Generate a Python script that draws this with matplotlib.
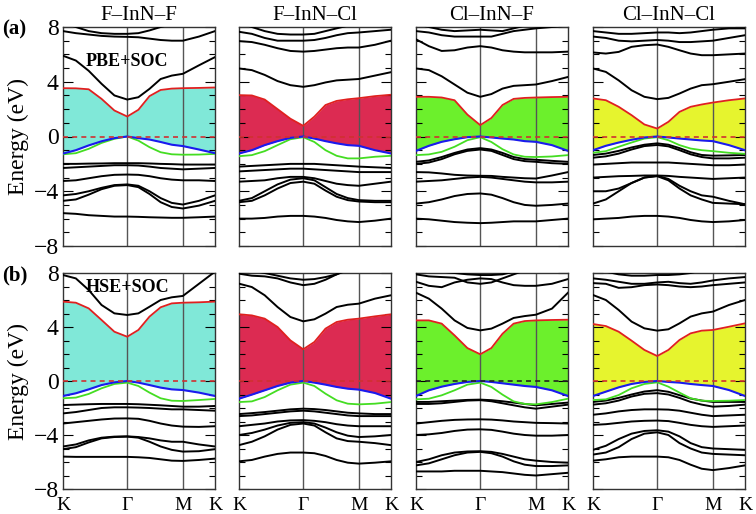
import numpy as np
import matplotlib.pyplot as plt
from matplotlib.ticker import MultipleLocator

plt.rcParams['font.family'] = ['Liberation Serif', 'DejaVu Serif']

# k-path K-G-M-K, segment lengths |KG|:|GM|:|MK| (units of 2pi/a)
seg_len = [4 / 3, 2 / np.sqrt(3), 2 / 3]
k_nodes = np.concatenate([[0], np.cumsum(seg_len)])
# sample fractions along each segment
seg_frac = [[0, .2, .4, .6, .8, 1], [.2, .4, .6, .8, 1], [.5, 1]]
kpts = np.concatenate([k_nodes[i] + np.array(f) * seg_len[i] for i, f in enumerate(seg_frac)])

titles = ["F\u2013InN\u2013F", "F\u2013InN\u2013Cl", "Cl\u2013InN\u2013F", "Cl\u2013InN\u2013Cl"]
fill_colors = ["#80e8d8", "#dc2b52", "#6cf02c", "#e6f42e"]
row_labels = ["(a)", "(b)"]
method_labels = ["PBE+SOC", "HSE+SOC"]
method_energy = [5.5, 6.9]
k_labels = ["K", "\u0393", "M", "K"]

# ---------------- PBE+SOC ----------------
a1_cb = [3.53, 3.52, 3.45, 2.75, 1.9, 1.46, 1.95, 2.95, 3.4, 3.5, 3.53, 3.55, 3.58]
a1_vb1 = [-1.25, -1.0, -0.65, -0.35, -0.12, 0.0, -0.12, -0.22, -0.4, -0.6, -0.7, -0.95, -1.22]
a1_vb2 = [-1.3, -1.22, -0.9, -0.47, -0.17, 0.0, -0.3, -0.78, -1.15, -1.3, -1.33, -1.32, -1.27]
a1_bands = [
    [5.9, 5.55, 4.8, 3.85, 3.0, 2.7, 2.87, 3.48, 4.2, 4.45, 4.58, 5.2, 5.8],
    [7.7, 7.55, 7.45, 7.35, 7.3, 7.28, 7.25, 7.15, 7.05, 7.0, 7.0, 7.3, 7.7],
    [8.3, 8.0, 7.7, 7.55, 7.5, 7.5, 7.55, 7.75, 8.0, 8.2, 8.4, 8.4, 8.4],
    [-2.0, -2.0, -1.98, -1.97, -1.95, -1.95, -1.95, -1.97, -2.0, -2.02, -2.05, -2.05, -2.05],
    [-2.3, -2.25, -2.2, -2.15, -2.1, -2.1, -2.12, -2.2, -2.3, -2.35, -2.4, -2.35, -2.3],
    [-3.25, -3.2, -3.05, -2.9, -2.8, -2.78, -2.8, -2.9, -3.05, -3.15, -3.2, -3.2, -3.25],
    [-4.3, -4.2, -4.0, -3.75, -3.55, -3.5, -3.6, -4.0, -4.5, -4.85, -4.97, -4.7, -4.3],
    [-4.7, -4.6, -4.25, -3.85, -3.6, -3.55, -3.7, -4.2, -4.8, -5.15, -5.26, -5.05, -4.7],
    [-5.6, -5.65, -5.75, -5.8, -5.85, -5.85, -5.87, -5.9, -5.92, -5.94, -5.94, -5.9, -5.85],
]

a2_cb = [3.02, 3.0, 2.7, 2.0, 1.3, 0.78, 1.45, 2.3, 2.6, 2.72, 2.8, 2.95, 3.05]
a2_vb1 = [-1.24, -1.0, -0.63, -0.34, -0.1, 0.0, -0.15, -0.34, -0.5, -0.63, -0.68, -1.0, -1.24]
a2_vb2 = [-1.44, -1.36, -1.07, -0.63, -0.2, -0.05, -0.4, -1.0, -1.41, -1.6, -1.6, -1.48, -1.41]
a2_bands = [
    [4.97, 4.85, 4.5, 4.05, 3.75, 3.63, 3.75, 3.95, 4.1, 4.15, 4.2, 4.45, 4.7],
    [6.97, 6.9, 6.7, 6.45, 6.25, 6.2, 6.25, 6.35, 6.45, 6.5, 6.5, 6.7, 7.0],
    [7.65, 7.5, 7.2, 7.0, 7.0, 7.0, 7.05, 7.2, 7.4, 7.55, 7.6, 7.7, 7.8],
    [8.3, 8.0, 7.7, 7.5, 7.45, 7.45, 7.5, 7.7, 7.9, 8.1, 8.2, 8.3, 8.3],
    [-2.2, -2.15, -2.1, -2.05, -2.0, -2.0, -2.0, -2.05, -2.1, -2.15, -2.2, -2.25, -2.3],
    [-2.55, -2.5, -2.45, -2.4, -2.35, -2.35, -2.4, -2.45, -2.5, -2.55, -2.6, -2.6, -2.6],
    [-3.3, -3.25, -3.2, -3.05, -2.95, -2.95, -3.05, -3.25, -3.45, -3.55, -3.6, -3.45, -3.3],
    [-4.7, -4.5, -4.0, -3.5, -3.15, -3.05, -3.2, -3.7, -4.2, -4.5, -4.65, -4.7, -4.7],
    [-4.8, -4.7, -4.3, -3.8, -3.4, -3.3, -3.45, -3.95, -4.4, -4.65, -4.75, -4.8, -4.8],
    [-6.0, -6.0, -5.95, -5.85, -5.8, -5.8, -5.85, -5.95, -6.1, -6.2, -6.25, -6.15, -6.0],
]

a3_cb = [2.9, 2.9, 2.85, 2.65, 1.6, 0.83, 1.35, 2.3, 2.75, 2.82, 2.85, 2.88, 2.9]
a3_vb1 = [-1.05, -0.68, -0.39, -0.2, -0.05, 0.0, -0.07, -0.15, -0.22, -0.34, -0.39, -0.63, -1.05]
a3_vb2 = [-1.36, -1.31, -1.12, -0.75, -0.27, -0.05, -0.4, -0.93, -1.31, -1.48, -1.5, -1.46, -1.36]
a3_bands = [
    [4.97, 4.85, 4.4, 3.8, 3.2, 2.9, 3.1, 3.5, 3.7, 3.75, 3.8, 4.05, 4.35],
    [7.1, 6.6, 6.25, 6.3, 6.5, 6.6, 6.5, 6.3, 6.2, 6.15, 6.15, 6.15, 6.2],
    [7.7, 7.6, 7.4, 7.3, 7.3, 7.3, 7.3, 7.5, 7.7, 7.8, 7.9, 8.0, 8.1],
    [8.2, 8.0, 7.8, 7.7, 7.75, 7.8, 7.75, 7.7, 7.9, 8.1, 8.2, 8.3, 8.3],
    [-1.85, -1.75, -1.5, -1.2, -0.95, -0.85, -0.95, -1.2, -1.5, -1.65, -1.7, -1.78, -1.85],
    [-2.0, -1.9, -1.65, -1.3, -1.05, -0.95, -1.05, -1.35, -1.65, -1.8, -1.85, -1.95, -2.0],
    [-2.6, -2.62, -2.7, -2.8, -2.85, -2.87, -2.88, -2.95, -3.0, -3.05, -3.07, -2.85, -2.6],
    [-3.3, -3.25, -3.2, -3.1, -3.0, -2.95, -3.0, -3.1, -3.2, -3.3, -3.35, -3.35, -3.3],
    [-4.9, -4.8, -4.6, -4.35, -4.2, -4.16, -4.25, -4.5, -4.8, -5.0, -5.06, -5.0, -4.9],
    [-6.0, -6.05, -6.15, -6.25, -6.3, -6.33, -6.3, -6.25, -6.2, -6.2, -6.2, -6.1, -6.0],
]

a4_cb = [2.78, 2.65, 2.17, 1.56, 0.88, 0.58, 1.07, 1.8, 2.17, 2.34, 2.48, 2.65, 2.78]
a4_vb1 = [-1.0, -0.68, -0.44, -0.24, -0.07, 0.0, -0.07, -0.15, -0.22, -0.29, -0.34, -0.63, -1.0]
a4_vb2 = [-1.19, -1.07, -0.75, -0.44, -0.15, -0.05, -0.27, -0.63, -0.88, -1.0, -1.07, -1.19, -1.27]
a4_bands = [
    [4.97, 4.72, 4.1, 3.38, 2.9, 2.73, 2.82, 3.14, 3.5, 3.75, 3.82, 4.0, 4.19],
    [6.14, 6.06, 6.18, 6.55, 6.67, 6.72, 6.55, 6.3, 6.06, 5.94, 5.94, 6.0, 6.06],
    [7.3, 7.2, 7.0, 6.95, 7.0, 7.05, 7.0, 6.9, 6.9, 6.95, 7.0, 7.2, 7.4],
    [7.7, 7.6, 7.5, 7.5, 7.55, 7.6, 7.6, 7.55, 7.6, 7.7, 7.8, 7.9, 7.9],
    [-1.35, -1.25, -1.05, -0.8, -0.6, -0.5, -0.6, -0.85, -1.15, -1.35, -1.4, -1.38, -1.35],
    [-1.55, -1.45, -1.25, -0.95, -0.7, -0.62, -0.72, -1.0, -1.3, -1.5, -1.6, -1.6, -1.55],
    [-2.05, -2.0, -1.95, -1.9, -1.9, -1.9, -1.9, -1.95, -2.0, -2.05, -2.1, -2.1, -2.05],
    [-3.0, -2.95, -2.9, -2.88, -2.85, -2.85, -2.88, -2.95, -3.0, -3.05, -3.1, -3.05, -3.0],
    [-4.9, -4.6, -4.0, -3.4, -3.0, -2.87, -3.1, -3.6, -4.0, -4.3, -4.4, -4.7, -4.95],
    [-4.0, -4.0, -3.8, -3.4, -3.0, -2.9, -3.2, -3.8, -4.3, -4.6, -4.85, -4.9, -4.95],
    [-6.05, -6.0, -5.95, -5.85, -5.8, -5.8, -5.85, -5.95, -6.1, -6.2, -6.25, -6.2, -6.1],
]

# ---------------- HSE+SOC ----------------
b1_cb = [5.88, 5.8, 5.38, 4.52, 3.65, 3.28, 3.78, 4.77, 5.46, 5.75, 5.8, 5.83, 5.88]
b1_vb1 = [-1.11, -0.91, -0.62, -0.3, -0.1, 0.0, -0.12, -0.3, -0.49, -0.62, -0.67, -0.86, -1.11]
b1_vb2 = [-1.28, -1.23, -0.96, -0.54, -0.22, -0.12, -0.37, -0.86, -1.28, -1.46, -1.48, -1.41, -1.33]
b1_bands = [
    [7.85, 7.6, 6.74, 5.63, 5.01, 4.89, 5.01, 5.5, 6.0, 6.2, 6.3, 7.2, 8.1],
    [-1.78, -1.75, -1.72, -1.7, -1.7, -1.7, -1.72, -1.76, -1.8, -1.85, -1.9, -1.9, -1.85],
    [-2.4, -2.3, -2.15, -2.0, -1.95, -1.95, -1.97, -2.0, -2.05, -2.1, -2.1, -2.15, -2.2],
    [-3.15, -3.05, -2.95, -2.85, -2.78, -2.77, -2.8, -2.95, -3.15, -3.3, -3.38, -3.4, -3.35],
    [-4.85, -4.7, -4.4, -4.2, -4.12, -4.1, -4.15, -4.25, -4.4, -4.5, -4.5, -4.7, -4.85],
    [-5.05, -4.9, -4.55, -4.25, -4.15, -4.12, -4.2, -4.5, -4.85, -5.1, -5.23, -5.2, -5.05],
    [-5.6, -5.62, -5.62, -5.62, -5.62, -5.62, -5.65, -5.7, -5.8, -5.9, -5.92, -5.85, -5.75],
]

b2_cb = [4.94, 4.86, 4.62, 4.0, 3.01, 2.35, 2.89, 3.88, 4.37, 4.54, 4.62, 4.79, 4.94]
b2_vb1 = [-1.31, -1.01, -0.69, -0.37, -0.12, 0.0, -0.12, -0.27, -0.44, -0.57, -0.64, -0.89, -1.31]
b2_vb2 = [-1.56, -1.51, -1.19, -0.69, -0.27, -0.12, -0.37, -0.94, -1.43, -1.68, -1.73, -1.68, -1.56]
b2_bands = [
    [7.21, 6.96, 6.35, 5.48, 4.74, 4.42, 4.57, 4.99, 5.48, 5.65, 5.73, 6.1, 6.35],
    [7.95, 7.8, 7.75, 7.6, 7.3, 7.1, 7.2, 7.5, 7.9, 8.3, 8.5, 8.5, 8.5],
    [8.4, 8.2, 8.0, 7.8, 7.6, 7.5, 7.55, 7.7, 7.9, 8.2, 8.4, 8.5, 8.5],
    [-2.45, -2.38, -2.3, -2.2, -2.1, -2.05, -2.08, -2.15, -2.25, -2.35, -2.4, -2.45, -2.45],
    [-2.6, -2.55, -2.45, -2.35, -2.25, -2.2, -2.25, -2.35, -2.45, -2.55, -2.6, -2.6, -2.6],
    [-3.35, -3.25, -3.15, -3.0, -2.92, -2.9, -2.95, -3.05, -3.2, -3.3, -3.35, -3.35, -3.35],
    [-4.0, -3.85, -3.6, -3.3, -3.1, -3.05, -3.15, -3.45, -3.8, -4.05, -4.15, -4.1, -4.0],
    [-4.75, -4.5, -4.1, -3.6, -3.25, -3.15, -3.3, -3.8, -4.25, -4.45, -4.5, -4.6, -4.75],
    [-5.95, -5.85, -5.6, -5.4, -5.3, -5.3, -5.35, -5.55, -5.85, -6.05, -6.12, -6.05, -5.95],
]

b3_cb = [4.49, 4.49, 4.25, 3.38, 2.44, 1.98, 2.44, 3.5, 4.25, 4.44, 4.49, 4.52, 4.54]
b3_vb1 = [-1.11, -0.69, -0.42, -0.22, -0.07, 0.0, -0.07, -0.17, -0.27, -0.37, -0.44, -0.69, -1.11]
b3_vb2 = [-1.36, -1.31, -1.06, -0.69, -0.27, -0.12, -0.44, -1.01, -1.51, -1.7, -1.73, -1.56, -1.31]
b3_bands = [
    [6.54, 6.1, 5.36, 4.49, 3.93, 3.75, 3.88, 4.25, 4.67, 4.81, 4.91, 5.36, 6.54],
    [7.35, 7.05, 6.95, 7.3, 7.5, 7.6, 7.55, 7.3, 7.1, 7.05, 7.05, 7.2, 7.55],
    [7.9, 7.75, 7.7, 7.65, 7.3, 7.2, 7.3, 7.6, 7.9, 8.2, 8.4, 8.5, 8.5],
    [8.3, 8.2, 8.1, 8.0, 7.9, 7.85, 7.85, 7.9, 8.1, 8.3, 8.5, 8.5, 8.5],
    [-1.55, -1.55, -1.5, -1.45, -1.4, -1.38, -1.42, -1.5, -1.6, -1.7, -1.8, -1.7, -1.6],
    [-1.7, -1.7, -1.65, -1.55, -1.45, -1.42, -1.5, -1.65, -1.8, -1.95, -2.05, -1.9, -1.75],
    [-3.15, -3.05, -2.95, -2.88, -2.85, -2.84, -2.86, -2.92, -3.0, -3.05, -3.1, -3.12, -3.15],
    [-4.0, -3.95, -3.85, -3.7, -3.6, -3.58, -3.62, -3.75, -3.9, -4.0, -4.05, -4.05, -4.0],
    [-6.0, -5.8, -5.5, -5.3, -5.22, -5.2, -5.25, -5.4, -5.6, -5.8, -5.9, -6.0, -6.05],
    [-6.25, -6.1, -5.8, -5.5, -5.3, -5.25, -5.35, -5.6, -5.95, -6.2, -6.3, -6.3, -6.25],
    [-6.7, -6.7, -6.7, -6.65, -6.65, -6.65, -6.7, -6.75, -6.85, -6.95, -7.0, -6.9, -6.8],
]

b4_cb = [4.22, 4.07, 3.65, 2.99, 2.3, 1.85, 2.3, 3.04, 3.53, 3.73, 3.78, 4.02, 4.27]
b4_vb1 = [-1.11, -0.79, -0.47, -0.22, -0.07, 0.0, -0.07, -0.12, -0.22, -0.3, -0.37, -0.67, -1.11]
b4_vb2 = [-1.41, -1.36, -1.04, -0.54, -0.22, -0.1, -0.42, -0.86, -1.28, -1.46, -1.48, -1.46, -1.41]
b4_bands = [
    [6.37, 6.0, 5.26, 4.4, 3.9, 3.73, 3.83, 4.27, 4.77, 5.01, 5.14, 5.63, 6.0],
    [7.25, 7.2, 6.9, 6.95, 7.1, 7.15, 7.1, 7.0, 6.95, 7.0, 7.1, 7.2, 7.3],
    [7.6, 7.5, 7.35, 7.2, 7.2, 7.3, 7.35, 7.25, 7.2, 7.3, 7.45, 7.6, 7.7],
    [8.3, 8.1, 7.9, 7.8, 7.8, 7.85, 7.85, 7.9, 8.0, 8.2, 8.4, 8.5, 8.5],
    [-1.55, -1.45, -1.25, -1.0, -0.78, -0.68, -0.8, -1.05, -1.3, -1.45, -1.55, -1.55, -1.55],
    [-1.75, -1.65, -1.45, -1.15, -0.95, -0.9, -1.0, -1.25, -1.55, -1.75, -1.9, -1.85, -1.75],
    [-2.5, -2.4, -2.25, -2.15, -2.1, -2.1, -2.12, -2.2, -2.35, -2.5, -2.6, -2.55, -2.5],
    [-3.25, -3.2, -3.1, -3.0, -2.95, -2.93, -2.97, -3.1, -3.25, -3.35, -3.4, -3.35, -3.3],
    [-5.1, -4.8, -4.3, -3.9, -3.7, -3.65, -3.75, -4.1, -4.6, -4.9, -5.0, -5.05, -5.1],
    [-5.45, -5.3, -4.9, -4.3, -3.9, -3.8, -4.0, -4.6, -5.0, -5.3, -5.4, -5.45, -5.5],
    [-5.9, -5.8, -5.65, -5.6, -5.6, -5.6, -5.65, -5.85, -6.2, -6.5, -6.6, -6.45, -6.25],
]

panels = [
    [(a1_cb, a1_vb1, a1_vb2, a1_bands), (a2_cb, a2_vb1, a2_vb2, a2_bands),
     (a3_cb, a3_vb1, a3_vb2, a3_bands), (a4_cb, a4_vb1, a4_vb2, a4_bands)],
    [(b1_cb, b1_vb1, b1_vb2, b1_bands), (b2_cb, b2_vb1, b2_vb2, b2_bands),
     (b3_cb, b3_vb1, b3_vb2, b3_bands), (b4_cb, b4_vb1, b4_vb2, b4_bands)],
]
fermi_colors = [["#d03030"] * 4, ["#d03030", "#d03030", "#222222", "#d03030"]]

W, H = 756, 514
fig = plt.figure(figsize=(W / 100, H / 100), dpi=100)
col_left = [63, 239, 416, 593]
panel_w = 152
row_top = [27, 273]
row_bot = [246, 489]

for r in range(2):
    for c in range(4):
        ax = fig.add_axes([col_left[c] / W, 1 - row_bot[r] / H,
                           panel_w / W, (row_bot[r] - row_top[r]) / H])
        cb, vb1, vb2, bands = panels[r][c]
        ax.fill_between(kpts, vb1, cb, color=fill_colors[c], lw=0, zorder=1)
        for k in k_nodes[1:3]:
            ax.axvline(k, color="#555555", lw=1.0, zorder=2)
        for b in bands:
            ax.plot(kpts, b, color="black", lw=1.4, zorder=3)
        ax.plot(kpts, vb2, color="#44dd22", lw=1.3, zorder=4)
        ax.plot(kpts, vb1, color="#1a1aee", lw=1.5, zorder=5)
        ax.plot(kpts, cb, color="#e02020", lw=1.3, zorder=5)
        ax.axhline(0, color=fermi_colors[r][c], lw=1.2, ls=(0, (3, 2.5)), zorder=6)

        ax.set_xlim(k_nodes[0], k_nodes[-1])
        ax.set_ylim(-8, 8)
        ax.yaxis.set_major_locator(MultipleLocator(4))
        ax.yaxis.set_minor_locator(MultipleLocator(1))
        ax.tick_params(axis="y", which="both", direction="in", left=True, right=True)
        ax.tick_params(axis="y", which="major", length=7, width=0.8)
        ax.tick_params(axis="y", which="minor", length=4, width=0.8)
        ax.set_xticks(k_nodes)
        ax.tick_params(axis="x", length=0, pad=6, labelsize=14)
        if r == 1:
            ax.set_xticklabels(k_labels)
        else:
            ax.set_xticklabels([])
        if c == 0:
            ax.set_yticks([-8, -4, 0, 4, 8])
            ax.set_yticklabels(["\u22128", "\u22124", "0", "4", "8"], fontsize=17)
            ax.tick_params(axis="y", pad=3)
            ax.set_ylabel("Energy (eV)", fontsize=17, labelpad=3)
            ax.text(k_nodes[1], method_energy[r], method_labels[r], fontsize=13,
                    fontweight="bold", ha="center", va="center", zorder=7)
        else:
            ax.set_yticklabels([])
        if r == 0:
            ax.set_title(titles[c], fontsize=15, pad=5)
        for s in ax.spines.values():
            s.set_linewidth(1.0)
            s.set_color("#333333")

for r in range(2):
    fig.text(2 / W, 1 - (row_top[r] + 2) / H, row_labels[r], fontsize=15,
             fontweight="bold", ha="left", va="center")

fig.savefig("out.png", dpi=100)
